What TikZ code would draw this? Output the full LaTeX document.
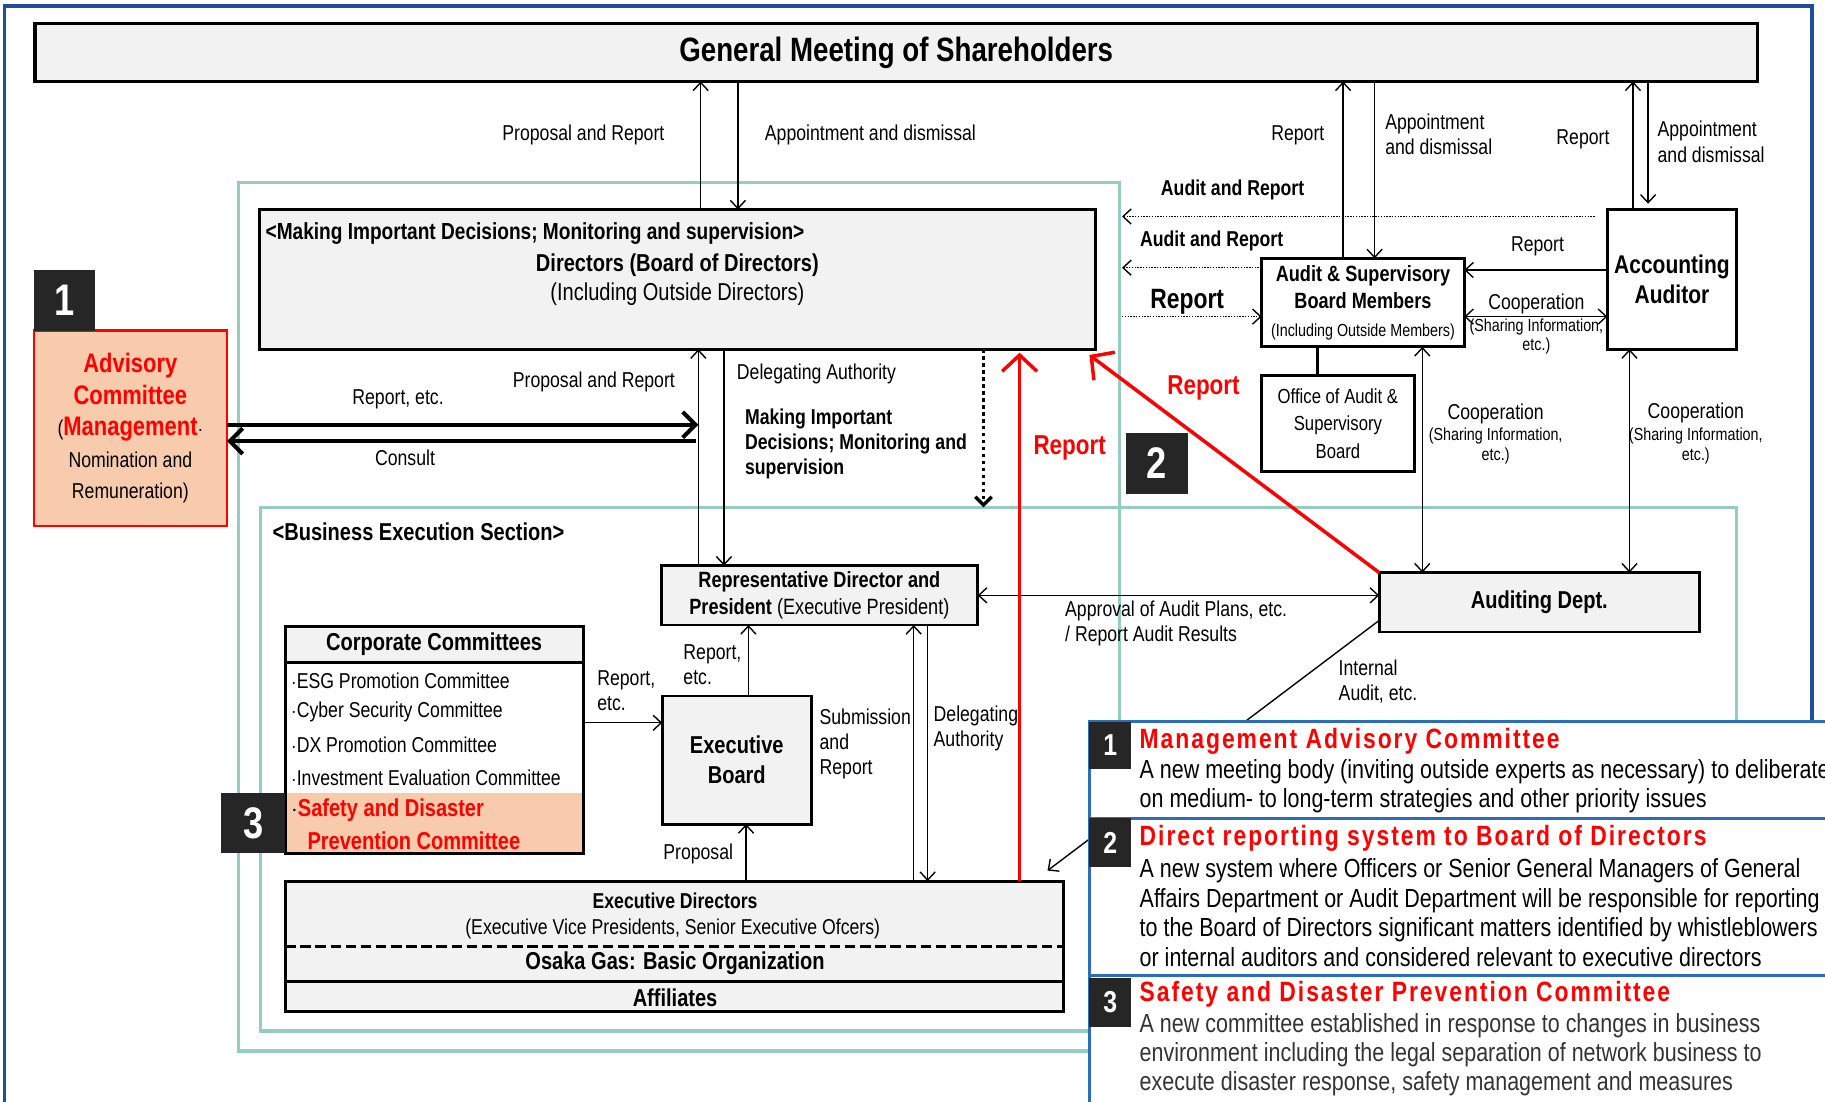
\documentclass[tikz,border=0pt]{standalone}
\usepackage{fontspec}
\setmainfont{Liberation Sans}[FakeStretch=0.82]
\newfontfamily\ttlfont{Liberation Sans}[FakeStretch=0.82,LetterSpace=7]
\usetikzlibrary{arrows.meta}

\definecolor{boxgray}{HTML}{F2F2F2}
\definecolor{peach}{HTML}{F8CBAD}
\definecolor{frameteal}{HTML}{96CDC2}
\definecolor{badgegray}{HTML}{262626}
\definecolor{navy}{HTML}{1F4E9A}
\definecolor{infoblue}{HTML}{2A6EBB}
\definecolor{bodygray}{HTML}{333333}

\newcommand\fsz[2]{\fontsize{#1}{#2}\selectfont}

\tikzset{
  box/.style={draw, line width=2.5pt, fill=boxgray, anchor=north west, inner sep=0pt, outer sep=0pt},
  wbox/.style={box, fill=white},
  frame/.style={draw=frameteal, line width=3pt, anchor=north west, inner sep=0pt, outer sep=0pt},
  badge/.style={fill=badgegray, text=white, anchor=north west, inner sep=0pt, outer sep=0pt, font=\bfseries\fsz{38}{40}},
  txt/.style={inner sep=0pt, align=left, font=\fsz{18.5}{21.5}},
  btxt/.style={txt, font=\bfseries\fsz{18.5}{21.5}},
  small/.style={txt, font=\fsz{15}{17}},
  rtxt/.style={txt, text=red, font=\bfseries\fsz{23.5}{25}},
  arr/.style={line width=1.2pt, -{Straight Barb[length=7pt,width=13pt]}},
  darr/.style={line width=1.2pt, {Straight Barb[length=7pt,width=13pt]}-{Straight Barb[length=7pt,width=13pt]}},
  dotarr/.style={line width=1.2pt, dash pattern=on 1.2pt off 1.2pt, -{Straight Barb[length=7pt,width=13pt]}},
  thk/.style={line width=3.5pt, -{Straight Barb[length=11pt,width=22pt]}},
  redarr/.style={draw=red, line width=3pt, -{Straight Barb[length=14pt,width=30pt]}},
}

\begin{document}
\begin{tikzpicture}[x=1pt,y=-1pt]
\useasboundingbox (0,0) rectangle (1568,946);
\draw[navy, line width=3pt] (4,990) -- (4,5) -- (1557,5) -- (1557,990);

% frames
\node[frame, minimum width=757pt, minimum height=746pt] (brd) at (205,157) {};
\node[frame, minimum width=1268pt, minimum height=450pt] (bes) at (224,436) {};

% shareholders and board
\node[box, line width=3pt, minimum width=1480pt, minimum height=50pt, font=\bfseries\fsz{29}{30}] (gm) at (30,20) {General Meeting of Shareholders};
\node[box, minimum width=718pt, minimum height=120pt] (dir) at (223,180) {};
\node[btxt, anchor=west, font=\bfseries\fsz{20}{22}] (dirt1) at (228,201) {<Making Important Decisions; Monitoring and supervision>};
\node[btxt, font=\bfseries\fsz{21}{22}] (dirt2) at (582,228) {Directors (Board of Directors)};
\node[txt, font=\fsz{21}{22}] (dirt3) at (582,253) {(Including Outside Directors)};

% advisory committee
\node[box, draw=red, fill=peach, line width=2pt, minimum width=166pt, minimum height=168pt, align=center, font=\fsz{18.5}{27}] (adv) at (29,284)
  {{\color{red}\bfseries\fsz{23}{27}Advisory}\\{\color{red}\bfseries\fsz{23}{27}Committee}\\({\color{red}\bfseries\fsz{23}{27}Management}$\cdot$\\Nomination and\\Remuneration)};
\node[badge, minimum width=53pt, minimum height=52pt] (bdg1) at (29,232) {1};

% audit side
\node[wbox, minimum width=174pt, minimum height=76pt, align=center, font=\bfseries\fsz{19}{23.5}] (asb) at (1084,222)
  {Audit \& Supervisory\\Board Members\\{\mdseries\fsz{15}{23.5}(Including Outside Members)}};
\node[wbox, minimum width=131pt, minimum height=82pt, align=center, font=\fsz{17.5}{24}] (oasb) at (1084,323)
  {Office of Audit \&\\Supervisory\\Board};
\node[wbox, minimum width=111pt, minimum height=120pt, align=center, font=\bfseries\fsz{22}{25}] (acc) at (1381,180)
  {Accounting\\Auditor};

% execution side
\node[box, minimum width=272pt, minimum height=51pt, align=center, font=\bfseries\fsz{19}{23}] (rep) at (568,486)
  {Representative Director and\\President {\mdseries (Executive President)}};
\node[box, minimum width=275pt, minimum height=51pt, font=\bfseries\fsz{21}{22}] (aud) at (1185,492) {Auditing Dept.};
\node[box, minimum width=128pt, minimum height=110pt, align=center, font=\bfseries\fsz{21}{26}] (eb) at (569,598) {Executive\\Board};

\node[wbox, minimum width=256pt, minimum height=195pt] (cc) at (245,538) {};
\node[box, minimum width=256pt, minimum height=31pt, font=\bfseries\fsz{21}{22}] (cch) at (245,538) {Corporate Committees};
\node[fill=peach, anchor=north west, inner sep=0pt, outer sep=0pt, minimum width=253.5pt, minimum height=50.75pt] (ccs) at (246.25,681) {};
\node[txt, anchor=west] (cc1) at (250,585) {$\cdot$ESG Promotion Committee};
\node[txt, anchor=west] (cc2) at (250,612) {$\cdot$Cyber Security Committee};
\node[txt, anchor=west] (cc3) at (250,640) {$\cdot$DX Promotion Committee};
\node[txt, anchor=west] (cc4) at (250,668) {$\cdot$Investment Evaluation Committee};
\node[txt, anchor=west, text=red, font=\bfseries\fsz{21}{22}] (cc5) at (250,696) {{\color{black}$\cdot$}Safety and Disaster};
\node[txt, anchor=west, text=red, font=\bfseries\fsz{21}{22}] (cc6) at (264,722) {Prevention Committee};
\node[badge, minimum width=55pt, minimum height=52pt] (bdg3) at (190,681) {3};

\node[box, minimum width=669pt, minimum height=112pt] (ed) at (245,757) {};
\node[btxt] (edt1) at (580,774) {Executive Directors};
\node[txt] (edt2) at (578,798) {(Executive Vice Presidents, Senior Executive Ofcers)};
\draw[line width=2.5pt, dash pattern=on 9pt off 4pt] (ed.west |- 0,813) -- (ed.east |- 0,813);
\node[btxt, font=\bfseries\fsz{21}{22}] (edt3) at (580,828) {Osaka Gas: Basic Organization};
\draw[line width=2.5pt] (ed.west |- 0,843) -- (ed.east |- 0,843);
\node[btxt, font=\bfseries\fsz{21}{22}] (edt4) at (580,857) {Affiliates};

\node[badge, minimum width=54pt, minimum height=52pt] (bdg2) at (967,372) {2};

% connectors to shareholders
\draw[arr] (dir.north -| 602,0) -- (gm.south -| 602,0);
\draw[arr] (gm.south -| 634,0) -- (dir.north -| 634,0);
\node[txt, anchor=east] (lpr1) at (571,116) {Proposal and Report};
\node[txt, anchor=west] (lad1) at (657,116) {Appointment and dismissal};
\draw[arr] (asb.north -| 1154,0) -- (gm.south -| 1154,0);
\draw[arr] (gm.south -| 1181,0) -- (asb.north -| 1181,0);
\node[txt, anchor=east] (lrp1) at (1138,116) {Report};
\node[txt, anchor=west, font=\fsz{18.5}{21}] (lad2) at (1190,115.5) {Appointment\\and dismissal};
\draw[arr] (acc.north -| 1403,0) -- (gm.south -| 1403,0);
\draw[arr] (gm.south -| 1416,0) -- ([yshift=5pt]acc.north -| 1416,0);
\node[txt, anchor=east] (lrp2) at (1383,120) {Report};
\node[txt, anchor=west, font=\fsz{18.5}{22}] (lad3) at (1424,122) {Appointment\\and dismissal};

% audit connectors
\draw[dotarr, shorten <=11pt, shorten >=2pt] (acc.west |- 0,186) -- (brd.east |- 0,186);
\node[btxt] (lar1) at (1059,163) {Audit and Report};
\draw[dotarr, shorten >=2pt] (asb.west |- 0,230) -- (brd.east |- 0,230);
\node[btxt] (lar2) at (1041,207) {Audit and Report};
\draw[dotarr, shorten <=2pt] (brd.east |- 0,272) -- (asb.west |- 0,272);
\node[btxt, font=\bfseries\fsz{24}{25}] (lrp3) at (1020,259) {Report};
\draw[arr] (acc.west |- 0,232) -- (asb.east |- 0,232);
\node[txt] (lrp4) at (1321,212) {Report};
\draw[darr] (asb.east |- 0,272) -- (acc.west |- 0,272);
\node[txt] (lco1) at (1320,261) {Cooperation};
\node[small] (lsi1) at (1320,281) {(Sharing Information,};
\node[small] (let1) at (1320,297) {etc.)};
\draw[line width=3pt] (asb.south -| 1132,0) -- (oasb.north -| 1132,0);
\draw[darr] (asb.south -| 1222,0) -- (aud.north -| 1222,0);
\node[txt] (lco2) at (1285,356) {Cooperation};
\node[small] (lsi2) at (1285,375) {(Sharing Information,};
\node[small] (let2) at (1285,392) {etc.)};
\draw[darr] (acc.south -| 1400,0) -- (aud.north -| 1400,0);
\node[txt] (lco3) at (1457,355) {Cooperation};
\node[small] (lsi3) at (1457,375) {(Sharing Information,};
\node[small] (let3) at (1457,392) {etc.)};

% advisory connectors
\coordinate (jn1) at (600,365);
\coordinate (jn2) at (598,379);
\draw[thk] (adv.east |- jn1) -- (jn1);
\draw[thk] (jn2) -- (adv.east |- jn2);
\node[txt] (lre1) at (342,343) {Report, etc.};
\node[txt] (lcs1) at (348,393) {Consult};

% board to execution
\draw[arr] (rep.north -| 600,0) -- (dir.south -| 600,0);
\draw[arr] (dir.south -| 622,0) -- (rep.north -| 622,0);
\node[txt, anchor=east] (lpr2) at (580,328) {Proposal and Report};
\node[txt, anchor=west] (lda1) at (633,321) {Delegating Authority};
\node[btxt, anchor=west] (lmk1) at (640,381.5) {Making Important\\Decisions; Monitoring and\\supervision};
\draw[line width=3pt, dash pattern=on 3pt off 3pt, -{Straight Barb[length=7pt,width=14pt]}] (dir.south -| 845,0) -- (bes.north -| 845,0);
\node[btxt, anchor=west, font=\bfseries\fsz{21}{22}] (lbes) at (234,457) {<Business Execution Section>};

% execution connectors
\draw[darr] (rep.east) -- (aud.west |- rep.east);
\node[txt, anchor=west] (lap1) at (915,535.5) {Approval of Audit Plans, etc.\\/ Report Audit Results};
\draw[arr] ([yshift=-41pt]aud.north west) -- ([shift={(-14pt,9pt)}]ed.north east);
\node[txt, anchor=west] (lia1) at (1150,586) {Internal\\Audit, etc.};
\draw[arr] (cc.east |- 0,621) -- (eb.west |- 0,621);
\node[txt, anchor=west] (lre2) at (513,593.5) {Report,\\etc.};
\draw[arr] (eb.north -| 643,0) -- (rep.south -| 643,0);
\node[txt, anchor=west] (lre3) at (587,571) {Report,\\etc.};
\draw[arr] (ed.north -| 785,0) -- (rep.south -| 785,0);
\node[txt, anchor=west] (lsb1) at (704,639.5) {Submission\\and\\Report};
\draw[arr] (rep.south -| 797,0) -- (ed.north -| 797,0);
\node[txt, anchor=west] (lda2) at (802,625.5) {Delegating\\Authority};
\draw[arr] (ed.north -| 641,0) -- (eb.south -| 641,0);
\node[txt, anchor=east] (lpp1) at (630,734) {Proposal};

% direct reporting
\draw[redarr, shorten >=3pt] (ed.north -| 876,0) -- (dir.south -| 876,0);
\draw[redarr] (aud.north west) -- ([shift={(-5pt,-5pt)}]dir.south east);
\node[rtxt] (lrr1) at (919,385) {Report};
\node[rtxt] (lrr2) at (1034,333) {Report};

% notes panel
\node[draw=infoblue, fill=white, line width=2.5pt, anchor=north west, inner sep=0pt, outer sep=0pt, minimum width=700pt, minimum height=400pt] (info) at (936,620) {};
\draw[infoblue, line width=2.5pt] (info.west |- 0,703) -- (info.east |- 0,703);
\draw[infoblue, line width=2.5pt] (info.west |- 0,838) -- (info.east |- 0,838);
\node[badge, font=\bfseries\fsz{26}{28}, minimum width=36pt, minimum height=41pt] (nb1) at (936,620) {1};
\node[badge, font=\bfseries\fsz{26}{28}, minimum width=36pt, minimum height=42pt] (nb2) at (936,703) {2};
\node[badge, font=\bfseries\fsz{26}{28}, minimum width=36pt, minimum height=42pt] (nb3) at (936,840) {3};
\node[txt, anchor=west, text=red, font=\ttlfont\bfseries\fsz{24}{26}] (nt1) at (979,637) {Management Advisory Committee};
\node[txt, anchor=west, font=\fsz{22.5}{25.5}] (nx1) at (979,675.5) {A new meeting body (inviting outside experts as necessary) to deliberate\\on medium- to long-term strategies and other priority issues};
\node[txt, anchor=west, text=red, font=\ttlfont\bfseries\fsz{24}{26}] (nt2) at (979,720) {Direct reporting system to Board of Directors};
\node[txt, anchor=west, font=\fsz{22.5}{25.3}] (nx2) at (979,784) {A new system where Officers or Senior General Managers of General\\Affairs Department or Audit Department will be responsible for reporting\\to the Board of Directors significant matters identified by whistleblowers\\or internal auditors and considered relevant to executive directors};
\node[txt, anchor=west, text=red, font=\ttlfont\bfseries\fsz{24}{26}] (nt3) at (979,854) {Safety and Disaster Prevention Committee};
\node[txt, anchor=west, text=bodygray, font=\fsz{22.5}{25}] (nx3) at (979,906) {A new committee established in response to changes in business\\environment including the legal separation of network business to\\execute disaster response, safety management and measures};
\end{tikzpicture}
\end{document}
